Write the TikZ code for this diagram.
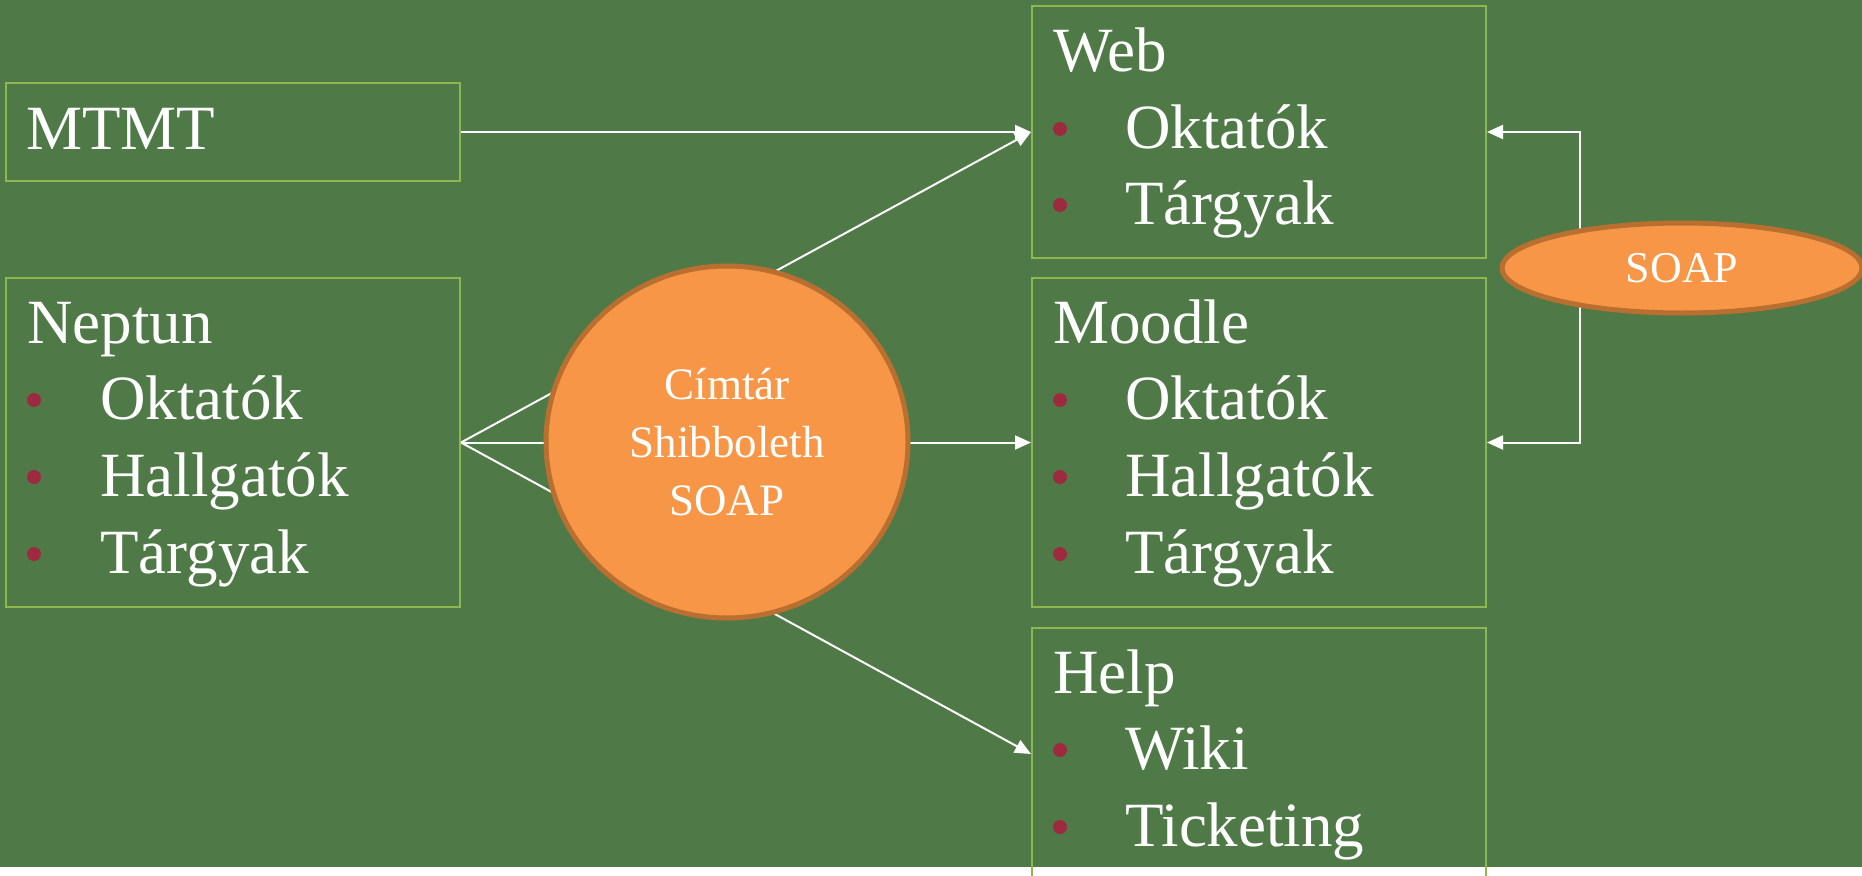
\documentclass[tikz,border=0pt]{standalone}
\usepackage{fontspec}
\setmainfont{Liberation Serif}
\usetikzlibrary{arrows.meta,shapes.geometric}
\definecolor{bg}{HTML}{4F7A47}
\definecolor{boxline}{HTML}{8DB851}
\definecolor{bul}{HTML}{9E2A3F}
\definecolor{orfill}{HTML}{F79646}
\definecolor{orline}{HTML}{B86F30}
\begin{document}
\begin{tikzpicture}[x=1pt,y=-1pt,
  box/.style={draw=boxline, line width=2pt, minimum width=454pt, anchor=north west, inner sep=0pt},
  big/.style={text=white, font=\fontsize{63pt}{76pt}\selectfont, anchor=base west, inner sep=0pt},
  conn/.style={draw=white, line width=2pt, -{Triangle[length=16pt,width=14pt]}},
  bidir/.style={draw=white, line width=2pt, {Triangle[length=16pt,width=14pt]}-{Triangle[length=16pt,width=14pt]}},
  blob/.style={ellipse, fill=orfill, draw=orline, line width=5pt, text=white, inner sep=0pt, align=center}
]
\useasboundingbox (0,0) rectangle (1862,875);
\fill[bg] (0,0) rectangle (1862,867);
\fill[white] (0,867) rectangle (1862,875);

% boxes
\node[box, minimum height=98pt] (mtmt) at (5,82) {};
\node[box, minimum height=329pt] (neptun) at (5,277) {};
\node[box, minimum height=252pt] (web) at (1031,5) {};
\node[box, minimum height=329pt] (moodle) at (1031,277) {};
\node[box, minimum height=252pt] (help) at (1031,627) {};

% connectors (under the circle and the SOAP ellipse)
\draw[conn] (mtmt.east) -- (web.west);
\draw[conn] (neptun.east) -- (web.west);
\draw[conn] (neptun.east) -- (moodle.west);
\draw[conn] (neptun.east) -- (help.west);
\draw[bidir] (web.east) -- ++(93,0) |- (moodle.east);

% circle and ellipse
\node[blob, minimum width=362pt, minimum height=352pt,
      font=\fontsize{45pt}{58pt}\selectfont] (cimtar) at (727,442) {Címtár\\Shibboleth\\SOAP};
\node[blob, minimum width=360pt, minimum height=90pt,
      font=\fontsize{44pt}{52pt}\selectfont] (soap) at (1682,268) {SOAP};

% texts
\node[big] (tmtmt) at (26,149) {MTMT};

\node[big] (tnep) at (27,343) {Neptun};
\fill[bul] (34,400) circle (7pt);
\node[big] (tnep1) at (100,419) {Oktatók};
\fill[bul] (34,477) circle (7pt);
\node[big] (tnep2) at (100,496) {Hallgatók};
\fill[bul] (34,554) circle (7pt);
\node[big] (tnep3) at (100,573) {Tárgyak};

\node[big] (tweb) at (1053,71) {Web};
\fill[bul] (1060,129) circle (7pt);
\node[big] (tweb1) at (1125,148) {Oktatók};
\fill[bul] (1060,205) circle (7pt);
\node[big] (tweb2) at (1125,224) {Tárgyak};

\node[big] (tmoo) at (1053,343) {Moodle};
\fill[bul] (1060,400) circle (7pt);
\node[big] (tmoo1) at (1125,419) {Oktatók};
\fill[bul] (1060,477) circle (7pt);
\node[big] (tmoo2) at (1125,496) {Hallgatók};
\fill[bul] (1060,554) circle (7pt);
\node[big] (tmoo3) at (1125,573) {Tárgyak};

\node[big] (thelp) at (1053,693) {Help};
\fill[bul] (1060,750) circle (7pt);
\node[big] (thelp1) at (1125,769) {Wiki};
\fill[bul] (1060,827) circle (7pt);
\node[big] (thelp2) at (1125,846) {Ticketing};
\end{tikzpicture}
\end{document}
